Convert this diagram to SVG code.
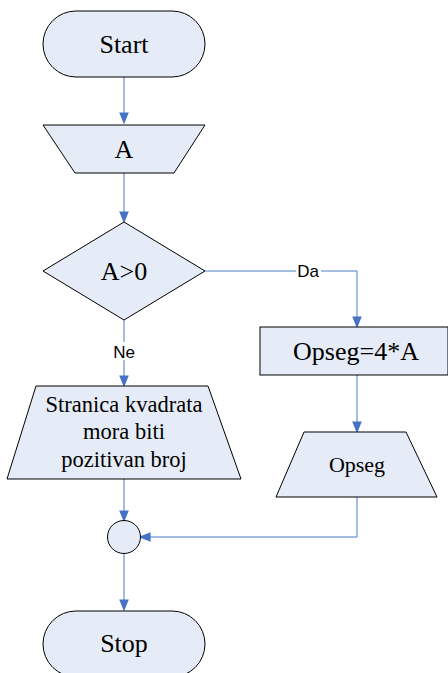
<svg xmlns="http://www.w3.org/2000/svg" width="448" height="673" viewBox="0 0 448 673">
<style>
.s{fill:#E6ECF7;stroke:#000;stroke-width:1}
.t{fill:#000;text-anchor:middle}
.c{fill:none;stroke:#4A7CC4;stroke-width:1}
.l{font-size:17px;fill:#000;text-anchor:middle}
</style>
<defs>
<marker id="ah" markerWidth="12" markerHeight="15" refX="12" refY="6" orient="auto" markerUnits="userSpaceOnUse" viewBox="0 0 15 12">
<path d="M0,0 L15,6 L0,12 Z" fill="#4472C4"/>
</marker>
<clipPath id="stopclip"><rect x="0" y="600" width="147" height="80"/></clipPath>
</defs>
<rect width="448" height="673" fill="#fff"/>
<g id="connectors" font-family="Liberation Sans, Arial, sans-serif">
<line class="c" x1="124" y1="77" x2="124" y2="122" marker-end="url(#ah)"/>
<line class="c" x1="124" y1="173" x2="124" y2="221" marker-end="url(#ah)"/>
<polyline class="c" points="205,271 357,271 357,326" marker-end="url(#ah)"/>
<line class="c" x1="124" y1="320" x2="124" y2="385" marker-end="url(#ah)"/>
<line class="c" x1="357" y1="375" x2="357" y2="431" marker-end="url(#ah)"/>
<line class="c" x1="124" y1="479" x2="124" y2="520" marker-end="url(#ah)"/>
<polyline class="c" points="357,497 357,537 141,537" marker-end="url(#ah)"/>
<line class="c" x1="124" y1="554" x2="124" y2="609" marker-end="url(#ah)"/>
<rect x="296" y="262" width="25" height="18" fill="#fff"/>
<text class="l" x="308" y="277">Da</text>
<rect x="111" y="342" width="26" height="18" fill="#fff"/>
<text class="l" x="124" y="358">Ne</text>
</g>
<g font-family="Liberation Serif, Times New Roman, serif">
<g id="start">
<rect class="s" x="43" y="11" width="162" height="66" rx="33" ry="33"/>
<text class="t" x="124" y="53" font-size="26">Start</text>
</g>
<g id="inputA">
<polygon class="s" points="43,125 205,125 174,173 75,173"/>
<text class="t" x="124" y="158" font-size="26">A</text>
</g>
<g id="decision">
<polygon class="s" points="124,222 205,271 124,320 43,271"/>
<text class="t" x="124" y="280" font-size="26">A&gt;0</text>
</g>
<g id="process">
<rect class="s" x="260" y="327" width="188" height="48"/>
<text class="t" x="356" y="360" font-size="26">Opseg=4*A</text>
</g>
<g id="outputNe">
<polygon class="s" points="36,386 208,386 241,479 7,479"/>
<text class="t" x="124" y="412" font-size="22.5">Stranica kvadrata</text>
<text class="t" x="124" y="439" font-size="22.5">mora biti</text>
<text class="t" x="124" y="467" font-size="22.5">pozitivan broj</text>
</g>
<g id="outputOpseg">
<polygon class="s" points="304,432 406,432 437,497 276,497"/>
<text class="t" x="357" y="472" font-size="22">Opseg</text>
</g>
<g id="connector">
<circle class="s" cx="124" cy="537" r="16.5"/>
</g>
<g id="stop">
<rect class="s" x="43" y="611" width="162" height="66" rx="33" ry="33"/>
<text class="t" x="124" y="652" font-size="26" clip-path="url(#stopclip)">Stop</text>
</g>
</g>
</svg>
